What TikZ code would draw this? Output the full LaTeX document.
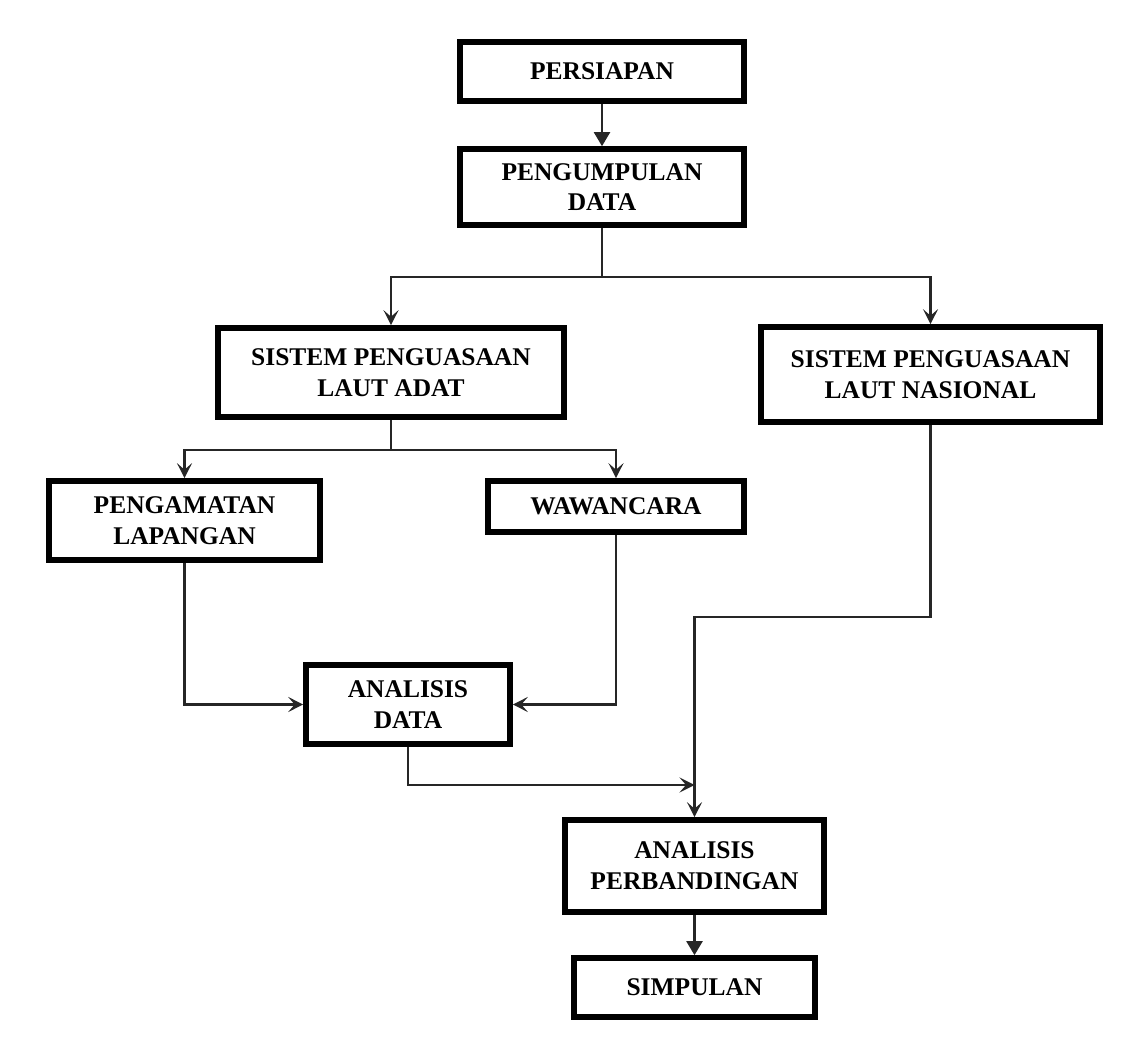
\documentclass[tikz,border=0pt]{standalone}
\usepackage{fontspec}
\setmainfont{Liberation Serif}
\usetikzlibrary{arrows.meta}
\begin{document}
\begin{tikzpicture}[x=0.02cm,y=-0.02cm,
  box/.style={draw=black,line width=3.2pt,align=center,inner sep=0pt,
    font=\fontsize{14.5}{17.5}\selectfont\bfseries},
  conn/.style={draw=black!85,line width=1.2pt},
  arr/.style={conn,-{Stealth[length=0.3cm,width=0.3cm,inset=0.13cm]}},
  tri/.style={conn,-{Triangle[length=0.28cm,width=0.32cm]}}]
\useasboundingbox (0,0) rectangle (1137,1064);
\node[box,minimum width=5.68cm,minimum height=1.18cm] (persiapan) at (602,71.5) {PERSIAPAN};
\node[box,minimum width=5.68cm,minimum height=1.52cm] (pengumpulan) at (602,187) {PENGUMPULAN\\DATA};
\node[box,minimum width=6.92cm,minimum height=1.78cm] (adat) at (391,372.5) {SISTEM PENGUASAAN\\LAUT ADAT};
\node[box,minimum width=6.78cm,minimum height=1.90cm] (nasional) at (930.5,374.5) {SISTEM PENGUASAAN\\LAUT NASIONAL};
\node[box,minimum width=5.42cm,minimum height=1.58cm] (pengamatan) at (184.5,520.5) {PENGAMATAN\\LAPANGAN};
\node[box,minimum width=5.12cm,minimum height=1.02cm] (wawancara) at (616,506.5) {WAWANCARA};
\node[box,minimum width=4.08cm,minimum height=1.58cm] (analisis) at (408,704.5) {ANALISIS\\DATA};
\node[box,minimum width=5.18cm,minimum height=1.84cm] (perbandingan) at (694.5,866) {ANALISIS\\PERBANDINGAN};
\node[box,minimum width=4.82cm,minimum height=1.18cm] (simpulan) at (694.5,987.5) {SIMPULAN};

\coordinate (b1) at (602,277);
\coordinate (b2) at (391,450);
\coordinate (b3) at (694.5,617);
\coordinate (b4) at (694.5,785);

\draw[tri] (persiapan.south) -- (pengumpulan.north);
\draw[conn] (pengumpulan.south) -- (b1);
\draw[arr] (b1) -| (adat.north);
\draw[arr] (b1) -| (nasional.north);
\draw[conn] (adat.south) -- (b2);
\draw[arr] (b2) -| (pengamatan.north);
\draw[arr] (b2) -| (wawancara.north);
\draw[arr] (pengamatan.south) |- (analisis.west);
\draw[arr] (wawancara.south) |- (analisis.east);
\draw[arr] (nasional.south) |- (b3) -- (perbandingan.north);
\draw[arr] (analisis.south) |- (b4);
\draw[tri] (perbandingan.south) -- (simpulan.north);
\end{tikzpicture}
\end{document}
